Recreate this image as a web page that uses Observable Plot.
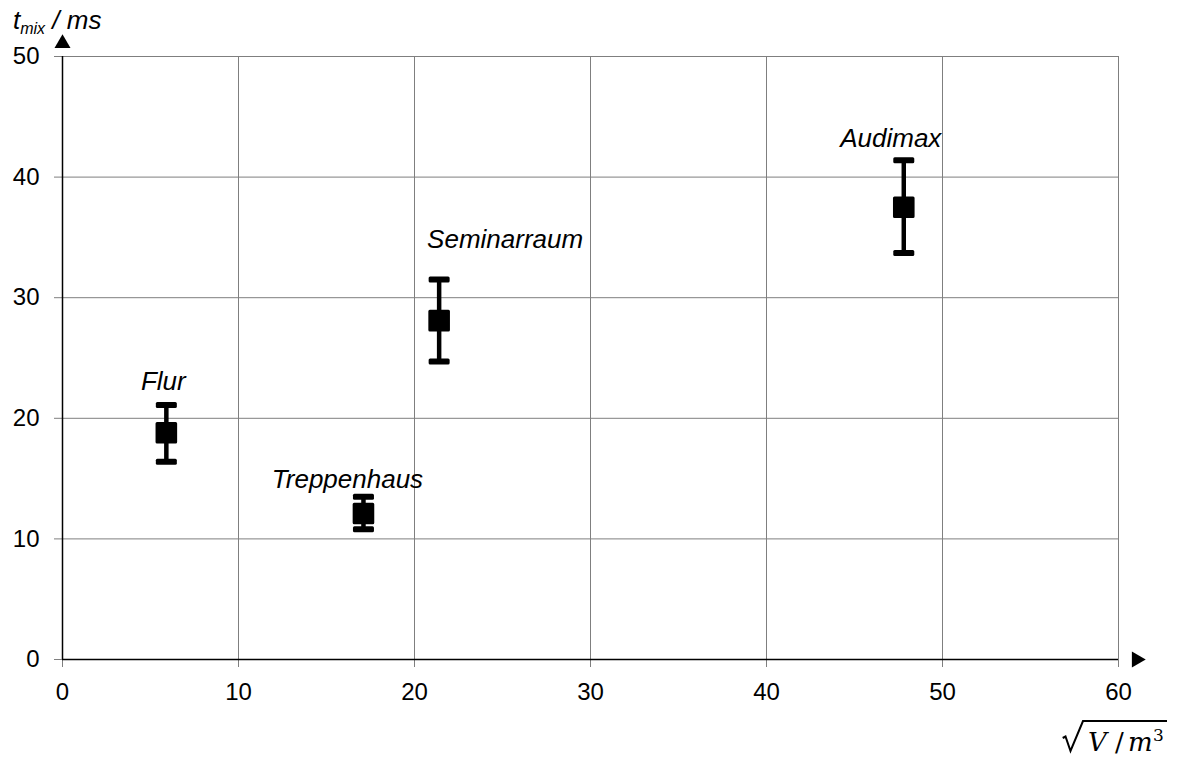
<!DOCTYPE html>
<html>
<head>
<meta charset="utf-8">
<script src="https://cdn.jsdelivr.net/npm/d3@7"></script>
<script src="https://cdn.jsdelivr.net/npm/@observablehq/plot@0.6"></script>
<style>
  body { margin: 0; background: white; }
  #chart { width: 1177px; height: 762px; }
</style>
</head>
<body>
<div id="chart"></div>
<script>
// ---- data ----
const rooms = ["Flur", "Treppenhaus", "Seminarraum", "Audimax"];
const sqrtV = [5.9, 17.1, 21.4, 47.8];
const tMix = [18.8, 12.1, 28.1, 37.5];
const tMixHi = [21.1, 13.5, 31.5, 41.4];
const tMixLo = [16.4, 10.8, 24.7, 33.7];
const xTicks = [0, 10, 20, 30, 40, 50, 60];
const yTicks = [0, 10, 20, 30, 40, 50];
const xDomain = [0, 60];
const yDomain = [0, 50];

const data = rooms.map((name, i) => ({name, x: sqrtV[i], y: tMix[i], hi: tMixHi[i], lo: tMixLo[i]}));

// label offsets (px) relative to the upper cap
const labelOffset = {
  Flur: [-3, -23],
  Treppenhaus: [-16, -17],
  Seminarraum: [66, -40],
  Audimax: [-13, -22]
};

const capSymbol = {draw(ctx) { ctx.moveTo(-9, -1.5); ctx.lineTo(9, -1.5); ctx.lineTo(9, 1.5); ctx.lineTo(-9, 1.5); ctx.closePath(); }};
const squareSymbol = {draw(ctx) { ctx.moveTo(-9.3, -9.3); ctx.lineTo(9.3, -9.3); ctx.lineTo(9.3, 9.3); ctx.lineTo(-9.3, 9.3); ctx.closePath(); }};

const grey = "#7f7f7f";

const plot = Plot.plot({
  width: 1177,
  height: 762,
  marginLeft: 62,
  marginRight: 59,
  marginTop: 56,
  marginBottom: 103,
  style: {fontFamily: "'Liberation Sans', Arial, sans-serif", fontSize: "24px", color: "black", background: "white", overflow: "visible"},
  x: {domain: xDomain, ticks: xTicks},
  y: {domain: yDomain, ticks: yTicks},
  marks: [
    Plot.gridX(xTicks, {stroke: grey, strokeOpacity: 1, strokeWidth: 1}),
    Plot.gridY(yTicks, {stroke: grey, strokeOpacity: 1, strokeWidth: 1}),
    Plot.axisX(xTicks, {tickSize: 8, tickPadding: 15, stroke: grey, fill: "black", fontSize: 24, label: null, tickFormat: d => String(d)}),
    Plot.axisY(yTicks, {tickSize: 8, tickPadding: 15, stroke: grey, fill: "black", fontSize: 24, label: null, tickFormat: d => String(d)}),
    Plot.ruleX([xDomain[0]], {stroke: "black", strokeWidth: 1.5}),
    Plot.ruleY([yDomain[0]], {stroke: "black", strokeWidth: 1.5}),
    Plot.dot([xDomain[1]], {x: d => d, y: yDomain[0], dx: 18, symbol: "triangle", r: 5.94, rotate: 90, fill: "black", stroke: "none"}),
    Plot.dot([yDomain[1]], {x: xDomain[0], y: d => d, dy: -13, symbol: "triangle", r: 5.94, fill: "black", stroke: "none"}),
    Plot.ruleX(data, {x: "x", y1: "lo", y2: "hi", stroke: "black", strokeWidth: 4.5}),
    Plot.dot(data, {x: "x", y: "hi", symbol: capSymbol, r: 5, fill: "black", stroke: "black", strokeWidth: 3, strokeLinejoin: "round"}),
    Plot.dot(data, {x: "x", y: "lo", symbol: capSymbol, r: 5, fill: "black", stroke: "black", strokeWidth: 3, strokeLinejoin: "round"}),
    Plot.dot(data, {x: "x", y: "y", symbol: squareSymbol, r: 10, fill: "black", stroke: "black", strokeWidth: 3, strokeLinejoin: "round"}),
    ...rooms.map(name => Plot.text(data.filter(d => d.name === name), {
      x: "x", y: "hi", text: "name",
      dx: labelOffset[name][0], dy: labelOffset[name][1],
      fontStyle: "italic", fontSize: 26, fill: "black", textAnchor: "middle", lineAnchor: "middle"
    }))
  ]
});

const svg = d3.select(plot);
// y-axis title
const t = svg.append("text")
  .attr("x", 13).attr("y", 29)
  .attr("text-anchor", "start")
  .attr("font-family", "'Liberation Sans', Arial, sans-serif")
  .attr("font-style", "italic").attr("font-size", 26).attr("fill", "black");
t.append("tspan").text("t");
t.append("tspan").attr("font-size", 16).attr("dy", 5).text("mix");
t.append("tspan").attr("dy", -5).text(" / ms");

// x-axis title: sqrt(V/m^3)
svg.append("path")
  .attr("d", "M1062.7,738 L1065.5,736.5 L1070.5,751 L1083,721 L1167,721")
  .attr("fill", "none").attr("stroke", "black").attr("stroke-width", 2).attr("stroke-linejoin", "miter");
const s = svg.append("text")
  .attr("y", 751)
  .attr("text-anchor", "start")
  .attr("font-family", "'DejaVu Serif', serif")
  .attr("font-size", 26).attr("fill", "black");
s.append("tspan").attr("x", 1088).attr("font-style", "italic").text("V");
s.append("tspan").attr("x", 1115).text("/");
s.append("tspan").attr("x", 1128).attr("font-style", "italic").text("m");
s.append("tspan").attr("x", 1153).attr("font-size", 17).attr("dy", -10).text("3");

document.getElementById("chart").appendChild(plot);
</script>
</body>
</html>
